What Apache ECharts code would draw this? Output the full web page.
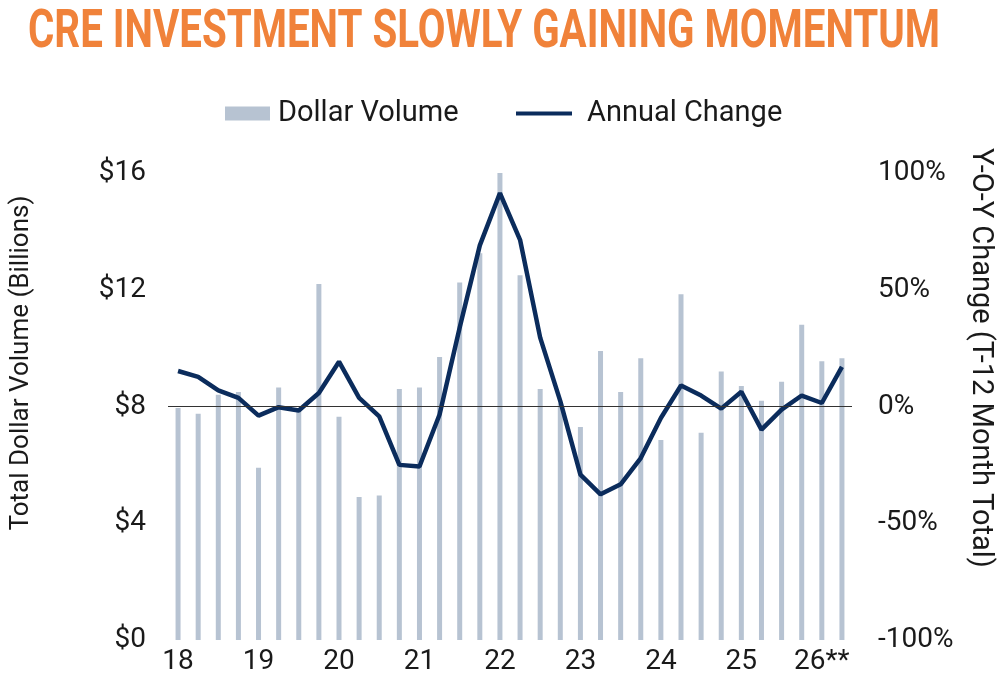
<!DOCTYPE html>
<html lang="en">
<head>
  <meta charset="UTF-8">
  <title>CRE Investment</title>
  <style>
    html, body { margin: 0; padding: 0; background: #fff; }
  </style>
</head>
<body>
  <div id="main" style="width:1000px;height:680px;"></div>
</body>
<script src="https://cdn.jsdelivr.net/npm/echarts@6/dist/echarts.min.js"></script>
<script>
  // quarters 2018 Q1 .. 2026 Q2
  var quarters = [
    '2018 Q1', '2018 Q2', '2018 Q3', '2018 Q4',
    '2019 Q1', '2019 Q2', '2019 Q3', '2019 Q4',
    '2020 Q1', '2020 Q2', '2020 Q3', '2020 Q4',
    '2021 Q1', '2021 Q2', '2021 Q3', '2021 Q4',
    '2022 Q1', '2022 Q2', '2022 Q3', '2022 Q4',
    '2023 Q1', '2023 Q2', '2023 Q3', '2023 Q4',
    '2024 Q1', '2024 Q2', '2024 Q3', '2024 Q4',
    '2025 Q1', '2025 Q2', '2025 Q3', '2025 Q4',
    '2026 Q1', '2026 Q2'
  ];
  var yearLabels = ['18', '19', '20', '21', '22', '23', '24', '25', '26**'];

  // dollar volume, billions
  var dollarVolume = [
    7.95, 7.75, 8.4, 8.5,
    5.9, 8.65, 7.85, 12.2,
    7.65, 4.9, 4.95, 8.6,
    8.65, 9.7, 12.25, 13.25,
    16.15, 12.5, 8.6, 8.1,
    7.3, 9.9, 8.5, 9.65,
    6.85, 11.85, 7.1, 9.2,
    8.7, 8.2, 8.85, 10.8,
    9.55, 9.65
  ];

  // y-o-y change of trailing 12 month total, %
  var annualChange = [
    15.2, 12.7, 6.9, 3.7,
    -3.9, -0.3, -1.7, 5.8,
    19.2, 3.7, -4.2, -25,
    -25.7, -3.4, 33.8, 69,
    91.4, 71.4, 29.5, 2.3,
    -29.2, -37.6, -33.3, -22.1,
    -4.9, 9.0, 4.7, -0.9,
    6.3, -9.9, -1.3, 4.7,
    1.5, 17.0
  ];

  var font = 'Roboto';
  var textColor = '#1a1a1a';
  var titleText = 'CRE INVESTMENT SLOWLY GAINING MOMENTUM';
  var titleFont = 'bold 54px Roboto';

  // squeeze the title into a condensed look
  var ctx = document.createElement('canvas').getContext('2d');
  ctx.font = titleFont;
  var titleScale = 912 / ctx.measureText(titleText).width;

  var myChart = echarts.init(document.getElementById('main'));

  myChart.setOption({
    backgroundColor: '#fff',
    animation: false,
    legend: [{
      data: [{ name: 'Dollar Volume', icon: 'rect' }],
      left: 220,
      top: 94,
      itemWidth: 45,
      itemHeight: 14,
      textStyle: { fontFamily: font, fontSize: 29, color: textColor, padding: [0, 0, 0, 3] }
    }, {
      data: [{ name: 'Annual Change', icon: 'rect' }],
      left: 511,
      top: 94,
      itemWidth: 56,
      itemHeight: 4,
      textStyle: { fontFamily: font, fontSize: 29, color: textColor, padding: [0, 0, 0, 10] }
    }],
    grid: {
      left: 168,
      right: 148,
      top: 173,
      bottom: 40
    },
    xAxis: {
      type: 'category',
      data: quarters,
      axisLine: { show: false },
      axisTick: { show: false },
      axisLabel: {
        interval: 3,
        margin: 8,
        fontFamily: font,
        fontSize: 28,
        color: textColor,
        formatter: function (v, i) {
          return yearLabels[i / 4] || '';
        }
      }
    },
    yAxis: [{
      type: 'value',
      min: 0,
      max: 16,
      interval: 4,
      splitLine: { show: false },
      axisLine: { show: false },
      axisTick: { show: false },
      axisLabel: {
        margin: 22,
        fontFamily: font,
        fontSize: 28,
        color: textColor,
        formatter: '${value}'
      }
    }, {
      type: 'value',
      min: -100,
      max: 100,
      interval: 50,
      splitLine: { show: false },
      axisLine: { show: false },
      axisTick: { show: false },
      axisLabel: {
        margin: 26,
        fontFamily: font,
        fontSize: 28,
        color: textColor,
        formatter: '{value}%'
      }
    }],
    graphic: [{
      type: 'text',
      x: 28,
      y: 33,
      scaleX: titleScale,
      style: {
        text: titleText,
        font: titleFont,
        fill: '#F0823A',
        align: 'left',
        verticalAlign: 'middle'
      }
    }, {
      type: 'text',
      x: 21,
      y: 363,
      rotation: Math.PI / 2,
      style: {
        text: 'Total Dollar Volume (Billions)',
        fontFamily: font,
        fontSize: 26,
        fill: textColor,
        align: 'center',
        verticalAlign: 'middle'
      }
    }, {
      type: 'text',
      x: 980,
      y: 358,
      rotation: -Math.PI / 2,
      style: {
        text: 'Y-O-Y Change (T-12 Month Total)',
        fontFamily: font,
        fontSize: 29,
        fill: textColor,
        align: 'center',
        verticalAlign: 'middle'
      }
    }],
    series: [{
      name: 'Dollar Volume',
      type: 'bar',
      yAxisIndex: 0,
      barWidth: 5,
      itemStyle: { color: '#b7c3d2' },
      data: dollarVolume
    }, {
      name: 'Annual Change',
      type: 'line',
      yAxisIndex: 1,
      symbol: 'none',
      lineStyle: { color: '#0b2c5c', width: 4.5 },
      itemStyle: { color: '#0b2c5c' },
      z: 3,
      markLine: {
        silent: true,
        symbol: 'none',
        label: { show: false },
        lineStyle: { color: '#333', width: 1, type: 'solid' },
        data: [{ yAxis: 0 }]
      },
      data: annualChange
    }]
  });
</script>
</html>
